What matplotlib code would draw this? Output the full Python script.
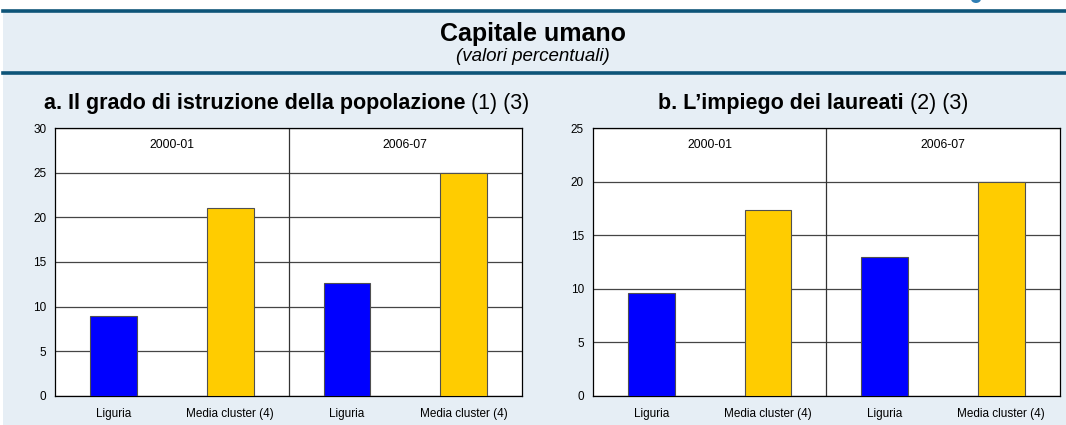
import matplotlib.pyplot as plt
from matplotlib.lines import Line2D
from matplotlib.patches import Rectangle, Ellipse

plt.rcParams['font.family'] = ['Liberation Sans', 'DejaVu Sans']

categorie = ['Liguria', 'Media cluster (4)', 'Liguria', 'Media cluster (4)']
periodi = ['2000-01', '2006-07']
colori = ['#0000ff', '#ffcc00', '#0000ff', '#ffcc00']

# a. grado di istruzione della popolazione
istruzione = [8.9, 21.1, 12.6, 25.0]
# b. impiego dei laureati
laureati = [9.6, 17.4, 13.0, 20.0]

bg = '#e6eef5'
dark = '#0d5478'

fig = plt.figure(figsize=(10.66, 4.25), dpi=100)
fig.patch.set_facecolor('white')
W, H = 1066, 425

# fondo e linee del riquadro
fig.add_artist(Rectangle((3 / W, 0), 1, 1 - 11 / H, transform=fig.transFigure,
                         facecolor=bg, edgecolor='none', zorder=-5))
for yy in [10.5, 73]:
    fig.add_artist(Line2D([3 / W, 1], [1 - yy / H] * 2, transform=fig.transFigure,
                          color=dark, lw=2.6, zorder=-4))
# pezzo del logo tagliato in alto
fig.add_artist(Ellipse((976 / W, 1 + 1 / H), 10 / W, 8 / H, transform=fig.transFigure,
                       facecolor='#2f7fb5', edgecolor='none', zorder=-3))

fig.text(0.5, 1 - 41 / H, 'Capitale umano', ha='center', va='baseline',
         fontsize=18, fontweight='bold')
fig.text(0.5, 1 - 61 / H, '(valori percentuali)', ha='center', va='baseline',
         fontsize=13.5, style='italic')


def titolo(xc, grassetto, note, size=15.5):
    t1 = fig.text(0, 1 - 109 / H, grassetto, ha='left', va='baseline',
                  fontsize=size, fontweight='bold')
    t2 = fig.text(0, 1 - 109 / H, ' ' + note, ha='left', va='baseline',
                  fontsize=size)
    r = fig.canvas.get_renderer()
    w1 = t1.get_window_extent(r).width
    w2 = t2.get_window_extent(r).width
    x0 = xc - (w1 + w2) / 2
    t1.set_x(x0 / W)
    t2.set_x((x0 + w1) / W)


titolo(286.5, 'a. Il grado di istruzione della popolazione', '(1) (3)')
titolo(813.5, 'b. L\u2019impiego dei laureati', '(2) (3)')


def pannello(rect, valori, ymax):
    ax = fig.add_axes(rect)
    ax.set_facecolor('white')
    x = range(len(categorie))
    ax.bar(x, valori, width=0.40, color=colori, edgecolor='#505050',
           linewidth=0.8, zorder=3)
    ax.set_xlim(-0.5, 3.5)
    ax.set_ylim(0, ymax)
    ax.set_yticks(range(0, ymax + 1, 5))
    ax.set_xticks(list(x))
    ax.set_xticklabels(categorie)
    ax.tick_params(length=0, labelsize=8.5)
    ax.tick_params(axis='y', pad=6.5)
    ax.tick_params(axis='x', pad=8.5)
    ax.grid(axis='y', color='#454545', lw=0.9, zorder=1)
    ax.axvline(1.5, color='#333333', lw=0.9, zorder=2)
    for s in ax.spines.values():
        s.set_color('black')
        s.set_linewidth(0.9)
    for i, p in enumerate(periodi):
        ax.text(0.5 + 2 * i, 0.9375, p, transform=ax.get_xaxis_transform(),
                ha='center', va='center', fontsize=8.7)
    return ax


pannello([55.3 / W, 1 - 395.7 / H, 466.7 / W, 267.4 / H], istruzione, 30)
pannello([593 / W, 1 - 395.7 / H, 466.7 / W, 267.4 / H], laureati, 25)

fig.savefig('out.png', dpi=100, facecolor=fig.get_facecolor())
